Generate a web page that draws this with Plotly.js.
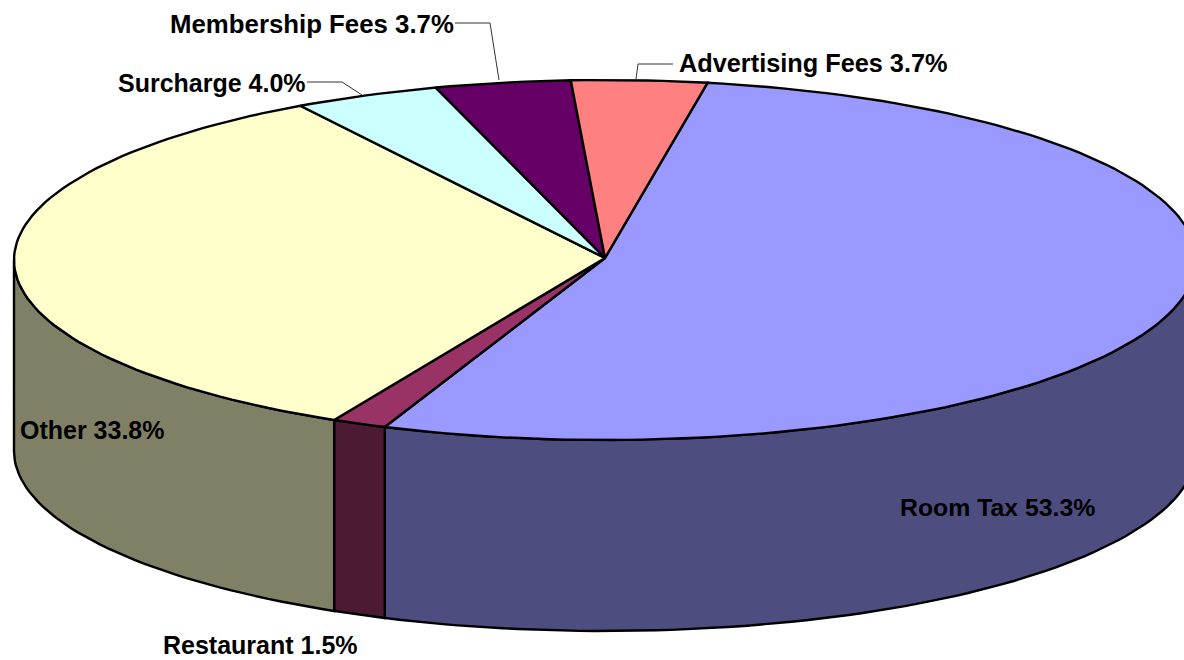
<!DOCTYPE html>
<html>
<head>
<meta charset="utf-8">
<script src="https://cdn.plot.ly/plotly-3.0.1.min.js"></script>
<style>html,body{margin:0;padding:0;background:#fff;overflow:hidden}</style>
</head>
<body>
<div id="chart" style="width:1184px;height:660px"></div>
<script>
// Slices, clockwise from the start angle
const categories = ["Room Tax", "Restaurant", "Other", "Surcharge", "Membership Fees", "Advertising Fees"];
const shares = [53.3, 1.5, 33.8, 4.0, 3.7, 3.7];
const topColors = ["#9999FF", "#993366", "#FFFFCC", "#CCFFFF", "#660066", "#FF8080"];
const sideColors = ["#4D4D80", "#4D1A33", "#808066", "#668080", "#330033", "#804040"];

// Pie geometry in page pixels
const centerX = 605, centerY = 260, apexY = 258, radiusX = 591, radiusY = 180, depth = 191, startAngle = 80;

// Label placement
const labelX = [898, 161, 18, 116, 168, 677];
const labelY = [507, 645, 430, 83, 24, 63];
const labelSize = [24.8, 25, 25, 25, 25.8, 25.3];
const leaders = [
  {x: [673, 638, 636], y: [64, 64, 79]},
  {x: [455, 490, 499], y: [23, 23, 80]},
  {x: [307, 342, 362], y: [82, 82, 95]}
];

const rad = d => d * Math.PI / 180;
const px = t => centerX + radiusX * Math.cos(rad(t));
const py = t => centerY - radiusY * Math.sin(rad(t));

function arc(a, b) {
  const n = Math.max(2, Math.ceil(Math.abs(a - b) / 1.5));
  const out = [];
  for (let i = 0; i <= n; i++) out.push(a + (b - a) * i / n);
  return out;
}

const sideTraces = [], topTraces = [];
let angle = startAngle;
shares.forEach((share, i) => {
  const a = angle, b = angle - share * 3.6;
  angle = b;
  // top face
  const ts = arc(a, b);
  topTraces.push({
    type: "scatter", mode: "lines", name: categories[i], fill: "toself",
    fillcolor: topColors[i], line: {color: "#000", width: 2.4}, hoverinfo: "name",
    x: [centerX].concat(ts.map(px), [centerX]),
    y: [apexY].concat(ts.map(py), [apexY])
  });
  // front wall: only the part of the arc on the near half of the ellipse
  const from = Math.min(a, 0), to = Math.max(b, -180);
  if (from > to) {
    const s = arc(from, to);
    const xs = s.map(px), ysTop = s.map(py), ysBot = ysTop.map(v => v + depth);
    sideTraces.push({
      type: "scatter", mode: "lines", name: categories[i], fill: "toself",
      fillcolor: sideColors[i], line: {color: "#000", width: 2.4}, hoverinfo: "name",
      x: xs.concat(xs.slice().reverse(), [xs[0]]),
      y: ysTop.concat(ysBot.slice().reverse(), [ysTop[0]])
    });
  }
});

const annotations = categories.map((c, i) => ({
  x: labelX[i], y: labelY[i], xref: "x", yref: "y", xanchor: "left", yanchor: "middle",
  showarrow: false, text: "<b>" + c + " " + shares[i].toFixed(1) + "%</b>",
  font: {family: "Liberation Sans, Arial, sans-serif", size: labelSize[i], color: "#000"}
}));

const toPath = l => l.x.map((v, i) => (i ? "L" : "M") + v + "," + l.y[i]).join(" ");
const shapes = leaders.map(l => ({
  type: "path", xref: "x", yref: "y", path: toPath(l),
  line: {color: "#333", width: 1}
}));

Plotly.newPlot("chart", sideTraces.concat(topTraces), {
  width: 1184, height: 660, autosize: false,
  margin: {l: 0, r: 0, t: 0, b: 0, pad: 0},
  paper_bgcolor: "#fff", plot_bgcolor: "#fff", showlegend: false,
  xaxis: {range: [0, 1184], visible: false, fixedrange: true},
  yaxis: {range: [660, 0], visible: false, fixedrange: true},
  annotations, shapes
}, {displayModeBar: false, staticPlot: true});
</script>
</body>
</html>
